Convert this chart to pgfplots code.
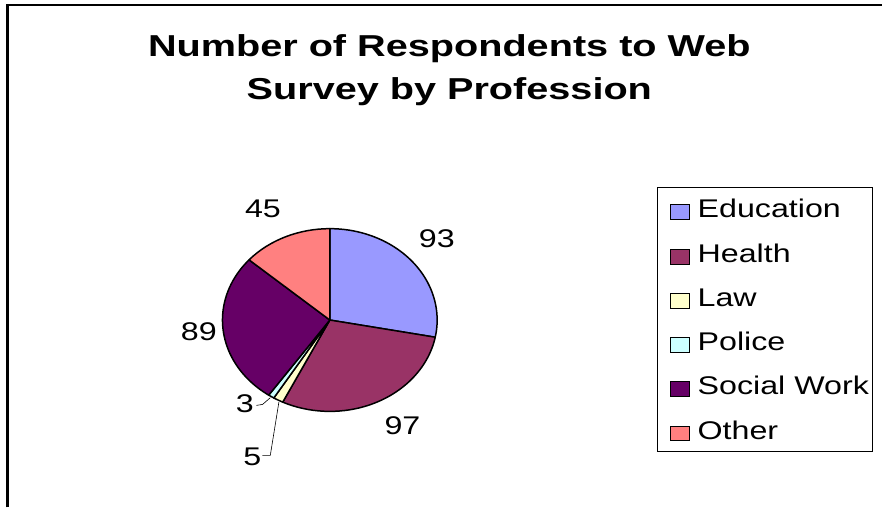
\documentclass[border=0pt]{standalone}
\usepackage{pgfplots}
\pgfplotsset{compat=1.18}
\usepackage{pgfplotstable}
\usepackage{graphicx}
\usepackage{fontspec}
\setmainfont{Liberation Sans}

\definecolor{cEdu}{RGB}{153,153,255}
\definecolor{cHea}{RGB}{153,51,102}
\definecolor{cLaw}{RGB}{255,255,204}
\definecolor{cPol}{RGB}{204,255,255}
\definecolor{cSoc}{RGB}{102,0,102}
\definecolor{cOth}{RGB}{255,128,128}

\pgfplotstableread{
name value
Education 93
Health 97
Law 5
Police 3
SocialWork 89
Other 45
}\pietable

\newcommand\lblfont{\fontsize{25.6bp}{30bp}\selectfont}
\newcommand\lbl[1]{{\lblfont\scalebox{1.26}[1]{#1}}}
\newcommand\slice[3]{\filldraw[fill=#1, draw=black, line width=1.5bp, line join=round]
  (axis cs:330.3,187.5) -- ++(#2:107.5bp and 91.5bp)
  arc[start angle=#2, end angle=#3, x radius=107.5bp, y radius=91.5bp] -- cycle;}

\begin{document}
\begin{tikzpicture}
\pgfplotstablegetelem{0}{value}\of\pietable \edef\vA{\pgfplotsretval}
\pgfplotstablegetelem{1}{value}\of\pietable \edef\vB{\pgfplotsretval}
\pgfplotstablegetelem{2}{value}\of\pietable \edef\vC{\pgfplotsretval}
\pgfplotstablegetelem{3}{value}\of\pietable \edef\vD{\pgfplotsretval}
\pgfplotstablegetelem{4}{value}\of\pietable \edef\vE{\pgfplotsretval}
\pgfplotstablegetelem{5}{value}\of\pietable \edef\vF{\pgfplotsretval}
\pgfmathsetmacro\tot{\vA+\vB+\vC+\vD+\vE+\vF}
\pgfmathsetmacro\k{360/\tot}
\pgfmathsetmacro\aA{90}
\pgfmathsetmacro\aB{90-\k*(\vA)}
\pgfmathsetmacro\aC{90-\k*(\vA+\vB)}
\pgfmathsetmacro\aD{90-\k*(\vA+\vB+\vC)}
\pgfmathsetmacro\aE{90-\k*(\vA+\vB+\vC+\vD)}
\pgfmathsetmacro\aF{90-\k*(\vA+\vB+\vC+\vD+\vE)}
\pgfmathsetmacro\aG{-270}
\begin{axis}[
  hide axis, scale only axis, width=883bp, height=508bp,
  xmin=0, xmax=883, ymin=0, ymax=508, clip=false,
  legend cell align=left,
  legend style={at={(0.7455,0.6313)}, anchor=north west, draw=black,
    line width=0.8bp, fill=white, inner xsep=4bp, inner ysep=9.5bp,
    row sep=20.6bp, column sep=8.2bp,
    nodes={inner sep=0pt, text height=21bp, text depth=2.7bp, font=\lblfont}},
  legend image code/.code={\path (0bp,0bp); \draw[#1, line width=0.8bp] (8.4bp,-11bp) rectangle (27bp,4bp);},
]
\path (axis cs:0,0) rectangle (axis cs:883,508);
\draw[line width=2.6bp] (axis cs:7.5,0) -- (axis cs:7.5,503) -- (axis cs:883,503);

\addlegendimage{fill=cEdu, draw=black}\addlegendentry{\scalebox{1.26}[1]{Education}}
\addlegendimage{fill=cHea, draw=black}\addlegendentry{\scalebox{1.26}[1]{Health}}
\addlegendimage{fill=cLaw, draw=black}\addlegendentry{\scalebox{1.26}[1]{Law}}
\addlegendimage{fill=cPol, draw=black}\addlegendentry{\scalebox{1.26}[1]{Police}}
\addlegendimage{fill=cSoc, draw=black}\addlegendentry{\scalebox{1.26}[1]{Social Work}}
\addlegendimage{fill=cOth, draw=black}\addlegendentry{\scalebox{1.26}[1]{Other}}

\slice{cEdu}{\aA}{\aB}
\slice{cHea}{\aB}{\aC}
\slice{cLaw}{\aC}{\aD}
\slice{cPol}{\aD}{\aE}
\slice{cSoc}{\aE}{\aF}
\slice{cOth}{\aF}{\aG}

% leader lines
\draw[line width=0.6bp] (axis cs:256.7,102) -- (axis cs:263,103) -- (axis cs:270.7,109.7);
\draw[line width=0.6bp] (axis cs:262.7,52) -- (axis cs:270.7,52) -- (axis cs:279.3,105.3);

% data labels
\node[anchor=base, inner sep=0pt] at (axis cs:437.5,259.7) {\lbl{\vA}};
\node[anchor=base, inner sep=0pt] at (axis cs:403,73) {\lbl{\vB}};
\node[anchor=base, inner sep=0pt] at (axis cs:252.8,42) {\lbl{\vC}};
\node[anchor=base, inner sep=0pt] at (axis cs:245.3,95.3) {\lbl{\vD}};
\node[anchor=base, inner sep=0pt] at (axis cs:199.2,167) {\lbl{\vE}};
\node[anchor=base, inner sep=0pt] at (axis cs:263.3,289.7) {\lbl{\vF}};

% title
\node[anchor=base, inner sep=0pt, font=\fontsize{30.3bp}{36bp}\selectfont\bfseries] at (axis cs:450,451.3) {\scalebox{1.31}[1]{Number of Respondents to Web}};
\node[anchor=base, inner sep=0pt, font=\fontsize{30.3bp}{36bp}\selectfont\bfseries] at (axis cs:450,408.3) {\scalebox{1.31}[1]{Survey by Profession}};
\end{axis}
\end{tikzpicture}
\end{document}
